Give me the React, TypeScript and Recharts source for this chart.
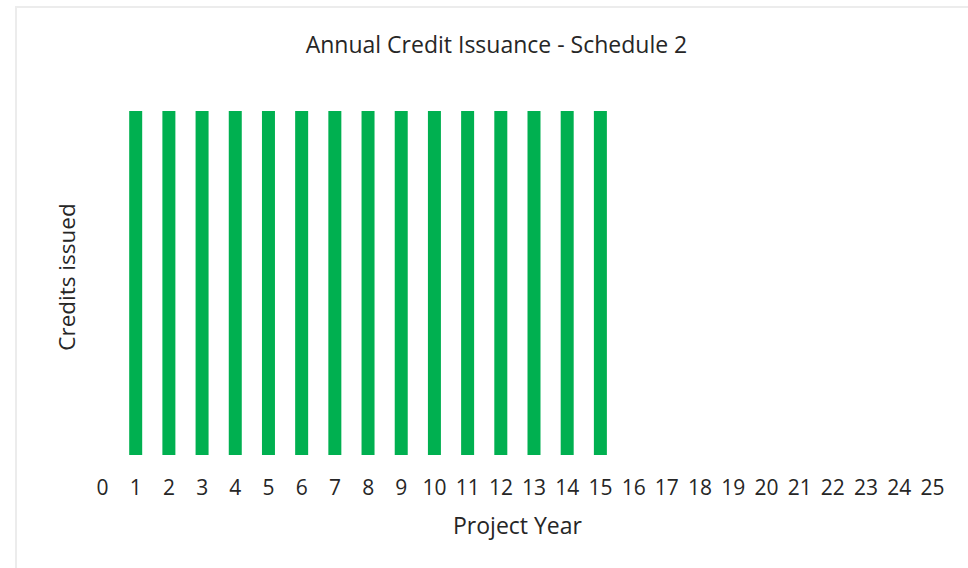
import React from 'react';
import { BarChart, Bar, XAxis, YAxis } from 'recharts';

const years = ['0', '1', '2', '3', '4', '5', '6', '7', '8', '9', '10', '11', '12', '13', '14', '15', '16', '17', '18', '19', '20', '21', '22', '23', '24', '25'];
const credits = [0, 1, 1, 1, 1, 1, 1, 1, 1, 1, 1, 1, 1, 1, 1, 1, 0, 0, 0, 0, 0, 0, 0, 0, 0, 0];

const title = 'Annual Credit Issuance - Schedule 2';
const xLabel = 'Project Year';
const yLabel = 'Credits issued';

const data = years.map((y, i) => ({ year: y, credits: credits[i] }));

const FONT = '"Open Sans", sans-serif';
const TEXT = '#262626';

export default function App() {
  return (
    <div style={{ position: 'absolute', left: 0, top: 0, width: 968, height: 568, background: '#fff', overflow: 'hidden', fontFamily: FONT }}>
      <div style={{ position: 'absolute', left: 15, top: 6, width: 980, height: 600, border: '2px solid #ececec', boxSizing: 'border-box' }} />
      <div style={{ position: 'absolute', left: 0, top: 29, width: 993, textAlign: 'center', fontSize: 23, color: TEXT, lineHeight: '30px', whiteSpace: 'nowrap' }}>{title}</div>
      <div style={{ position: 'absolute', left: 0, top: 510, width: 1035, textAlign: 'center', fontSize: 23, color: TEXT, lineHeight: '30px' }}>{xLabel}</div>
      <div style={{ position: 'absolute', left: 67, top: 277, width: 0, height: 0 }}>
        <div style={{ position: 'absolute', left: -100, top: -15, width: 200, textAlign: 'center', fontSize: 22.5, color: TEXT, lineHeight: '30px', transform: 'rotate(-90deg)' }}>{yLabel}</div>
      </div>
      <div style={{ position: 'absolute', left: 0, top: 0 }}>
        <BarChart width={968} height={568} data={data} margin={{ top: 111, right: 19, left: 86, bottom: 73 }}>
          <XAxis dataKey="year" interval={0} tickLine={false} axisLine={false} height={40} tickMargin={19}
            tick={{ fill: TEXT, fontSize: 21, fontFamily: FONT }} />
          <YAxis hide domain={[0, 1]} />
          <Bar dataKey="credits" fill="#00B050" barSize={13} isAnimationActive={false} />
        </BarChart>
      </div>
    </div>
  );
}
